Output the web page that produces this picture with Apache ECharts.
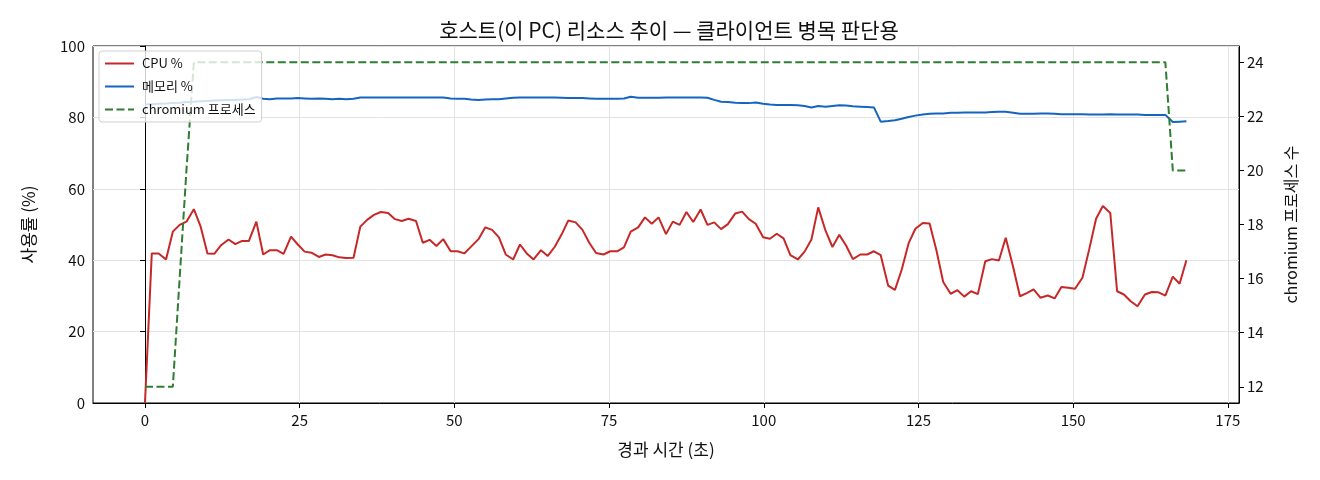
<!DOCTYPE html>
<html>
<head>
<meta charset="utf-8">
<script src="https://cdn.jsdelivr.net/npm/echarts@6/dist/echarts.min.js"></script>
<style>
  html, body { margin: 0; padding: 0; background: #fff; }
  #main { width: 1320px; height: 480px; }
</style>
</head>
<body>
<div id="main"></div>
<script>
    // 경과 시간 (초) — 샘플 시각
    const times = [
        0.0, 1.1, 2.2, 3.4, 4.5, 5.6, 6.7, 7.9, 9.0, 10.1, 11.2, 12.3, 13.5, 14.6, 15.7, 16.8, 18.0, 19.1, 20.2, 21.3,
        22.4, 23.6, 24.7, 25.8, 26.9, 28.1, 29.2, 30.3, 31.4, 32.5, 33.7, 34.8, 35.9, 37.0, 38.1, 39.3, 40.4, 41.5, 42.6, 43.8,
        44.9, 46.0, 47.1, 48.2, 49.4, 50.5, 51.6, 52.7, 53.9, 55.0, 56.1, 57.2, 58.3, 59.5, 60.6, 61.7, 62.8, 64.0, 65.1, 66.2,
        67.3, 68.4, 69.6, 70.7, 71.8, 72.9, 74.1, 75.2, 76.3, 77.4, 78.5, 79.7, 80.8, 81.9, 83.0, 84.2, 85.3, 86.4, 87.5, 88.6,
        89.8, 90.9, 92.0, 93.1, 94.2, 95.4, 96.5, 97.6, 98.7, 99.9, 101.0, 102.1, 103.2, 104.3, 105.5, 106.6, 107.7, 108.8, 110.0, 111.1,
        112.2, 113.3, 114.4, 115.6, 116.7, 117.8, 118.9, 120.1, 121.2, 122.3, 123.4, 124.5, 125.7, 126.8, 127.9, 129.0, 130.2, 131.3, 132.4, 133.5,
        134.6, 135.8, 136.9, 138.0, 139.1, 140.3, 141.4, 142.5, 143.6, 144.7, 145.9, 147.0, 148.1, 149.2, 150.3, 151.5, 152.6, 153.7, 154.8, 156.0,
        157.1, 158.2, 159.3, 160.4, 161.6, 162.7, 163.8, 164.9, 166.1, 167.2, 168.3
    ];

    // CPU %
    const cpu = [
        0, 41.9, 41.9, 40.2, 48.0, 49.9, 50.8, 54.3, 49.4, 41.9, 41.8, 44.2, 45.8, 44.5, 45.4, 45.4, 50.8, 41.6, 42.8, 42.8,
        41.8, 46.6, 44.4, 42.4, 42.1, 40.9, 41.6, 41.4, 40.8, 40.6, 40.7, 49.4, 51.3, 52.7, 53.5, 53.2, 51.5, 51.0, 51.6, 51.0,
        44.9, 45.7, 44.0, 45.9, 42.5, 42.5, 41.9, 43.8, 45.9, 49.2, 48.5, 46.4, 41.6, 40.2, 44.4, 41.9, 40.2, 42.8, 41.2, 43.7,
        47.1, 51.1, 50.6, 48.5, 44.9, 42.0, 41.6, 42.5, 42.5, 43.6, 48.0, 49.2, 52.0, 50.2, 52.0, 47.3, 50.8, 49.9, 53.5, 50.7,
        54.2, 49.9, 50.6, 48.7, 50.1, 53.1, 53.6, 51.5, 50.2, 46.4, 46.0, 47.4, 46.1, 41.4, 40.2, 42.4, 45.8, 54.8, 48.2, 43.7,
        47.1, 44.1, 40.3, 41.6, 41.6, 42.5, 41.4, 32.9, 31.7, 37.4, 44.7, 48.8, 50.4, 50.3, 42.8, 33.9, 30.6, 31.6, 29.8, 31.3,
        30.5, 39.7, 40.3, 39.9, 46.3, 38.1, 29.9, 30.8, 31.8, 29.5, 30.1, 29.3, 32.5, 32.3, 32.0, 35.1, 43.1, 51.6, 55.2, 53.2,
        31.3, 30.4, 28.5, 27.1, 30.4, 31.1, 31.0, 30.1, 35.4, 33.4, 40.0
    ];

    // 메모리 %
    const mem = [
        83.6, 83.7, 83.8, 83.9, 84.0, 84.1, 84.3, 84.4, 84.5, 84.6, 84.7, 84.8, 84.9, 84.9, 85.0, 85.1, 85.7, 85.2, 85.1, 85.3,
        85.3, 85.3, 85.4, 85.3, 85.2, 85.3, 85.2, 85.1, 85.2, 85.1, 85.2, 85.6, 85.6, 85.6, 85.6, 85.6, 85.6, 85.6, 85.6, 85.6,
        85.6, 85.6, 85.6, 85.6, 85.3, 85.2, 85.2, 85.0, 84.9, 85.0, 85.1, 85.1, 85.3, 85.5, 85.6, 85.6, 85.6, 85.6, 85.6, 85.6,
        85.5, 85.4, 85.4, 85.4, 85.3, 85.2, 85.2, 85.2, 85.2, 85.3, 85.8, 85.5, 85.5, 85.5, 85.5, 85.6, 85.6, 85.6, 85.6, 85.6,
        85.6, 85.5, 84.9, 84.4, 84.3, 84.1, 84.0, 84.0, 84.2, 83.8, 83.6, 83.5, 83.5, 83.5, 83.4, 83.2, 82.8, 83.2, 83.0, 83.2,
        83.4, 83.3, 83.1, 83.0, 82.9, 82.8, 78.8, 79.0, 79.2, 79.6, 80.1, 80.5, 80.8, 81.0, 81.1, 81.1, 81.3, 81.3, 81.4, 81.4,
        81.4, 81.4, 81.5, 81.6, 81.6, 81.3, 81.0, 81.0, 81.0, 81.1, 81.1, 81.0, 80.9, 80.9, 80.9, 80.9, 80.8, 80.8, 80.8, 80.9,
        80.8, 80.8, 80.8, 80.8, 80.7, 80.7, 80.7, 80.7, 78.7, 78.8, 78.9
    ];

    // chromium 프로세스 수
    const chromium = [
        12, 12, 12, 12, 12, 16, 20, 24, 24, 24, 24, 24, 24, 24, 24, 24, 24, 24, 24, 24,
        24, 24, 24, 24, 24, 24, 24, 24, 24, 24, 24, 24, 24, 24, 24, 24, 24, 24, 24, 24,
        24, 24, 24, 24, 24, 24, 24, 24, 24, 24, 24, 24, 24, 24, 24, 24, 24, 24, 24, 24,
        24, 24, 24, 24, 24, 24, 24, 24, 24, 24, 24, 24, 24, 24, 24, 24, 24, 24, 24, 24,
        24, 24, 24, 24, 24, 24, 24, 24, 24, 24, 24, 24, 24, 24, 24, 24, 24, 24, 24, 24,
        24, 24, 24, 24, 24, 24, 24, 24, 24, 24, 24, 24, 24, 24, 24, 24, 24, 24, 24, 24,
        24, 24, 24, 24, 24, 24, 24, 24, 24, 24, 24, 24, 24, 24, 24, 24, 24, 24, 24, 24,
        24, 24, 24, 24, 24, 24, 24, 24, 20, 20, 20
    ];

    const xTicks = [0, 25, 50, 75, 100, 125, 150, 175];
    const procTicks = [12, 14, 16, 18, 20, 22, 24];

    const pair = (vals) => times.map((t, i) => [t, vals[i]]);

    const FONT = '"Noto Sans CJK KR", "Noto Sans", sans-serif';

    var myChart = echarts.init(document.getElementById('main'));

    option = {
        textStyle: { fontFamily: FONT },
        title: {
            text: '호스트(이 PC) 리소스 추이 — 클라이언트 병목 판단용',
            left: 664,
            textAlign: 'center',
            top: 15,
            textStyle: { fontFamily: FONT, fontSize: 21, fontWeight: 'normal', color: '#111' }
        },
        legend: {
            orient: 'vertical',
            left: 99,
            top: 51,
            padding: [6, 6, 6, 5],
            itemWidth: 29,
            itemHeight: 14,
            itemGap: 10,
            backgroundColor: 'rgba(255,255,255,0.8)',
            borderColor: '#d0d0d0',
            borderWidth: 1,
            borderRadius: 3,
            itemStyle: { opacity: 0 },
            textStyle: { fontFamily: FONT, fontSize: 13, color: '#111', padding: [0, 0, 0, 3] },
            data: ['CPU %', '메모리 %', 'chromium 프로세스']
        },
        grid: {
            left: 93,
            right: 81,
            top: 46,
            bottom: 77,
            show: true,
            borderColor: '#000',
            borderWidth: 1,
            backgroundColor: 'transparent'
        },
        xAxis: {
            type: 'value',
            min: -8.4,
            max: 176.8,
            name: '경과 시간 (초)',
            nameLocation: 'middle',
            nameGap: 38,
            nameTextStyle: { fontFamily: FONT, fontSize: 17, color: '#111' },
            axisLine: { show: true, lineStyle: { color: '#000' } },
            axisTick: { show: true, length: 5, customValues: xTicks, lineStyle: { color: '#000' } },
            axisLabel: { customValues: xTicks, fontSize: 15, color: '#111', margin: 10 },
            splitLine: { show: true, lineStyle: { color: '#e3e3e3', width: 1 } }
        },
        yAxis: [
            {
                type: 'value',
                min: 0,
                max: 100,
                interval: 20,
                name: '사용률 (%)',
                nameLocation: 'middle',
                nameRotate: 90,
                nameGap: 56,
                nameTextStyle: { fontFamily: FONT, fontSize: 17, color: '#111' },
                axisLine: { show: true, lineStyle: { color: '#000' } },
                axisTick: { show: true, length: 5, lineStyle: { color: '#000' } },
                axisLabel: { fontSize: 15, color: '#111', margin: 8 },
                splitLine: { show: true, lineStyle: { color: '#e3e3e3', width: 1 } }
            },
            {
                type: 'value',
                position: 'right',
                min: 11.4,
                max: 24.6,
                name: 'chromium 프로세스 수',
                nameLocation: 'middle',
                nameRotate: 90,
                nameGap: 44,
                nameTextStyle: { fontFamily: FONT, fontSize: 16, color: '#111' },
                axisLine: { show: true, lineStyle: { color: '#000' } },
                axisTick: { show: true, length: 5, customValues: procTicks, lineStyle: { color: '#000' } },
                axisLabel: { customValues: procTicks, fontSize: 15, color: '#111', margin: 8 },
                splitLine: { show: false }
            }
        ],
        series: [
            {
                name: 'CPU %',
                type: 'line',
                yAxisIndex: 0,
                symbol: 'none',
                color: '#c62828',
                lineStyle: { width: 2, color: '#c62828' },
                data: pair(cpu),
                z: 3
            },
            {
                name: '메모리 %',
                type: 'line',
                yAxisIndex: 0,
                symbol: 'none',
                color: '#1565c0',
                lineStyle: { width: 2, color: '#1565c0' },
                data: pair(mem),
                z: 3
            },
            {
                name: 'chromium 프로세스',
                type: 'line',
                yAxisIndex: 1,
                symbol: 'none',
                color: '#2e7d32',
                lineStyle: { width: 2, color: '#2e7d32', type: [8, 3.5] },
                data: pair(chromium),
                z: 3
            }
        ]
    };

    myChart.setOption(option);
</script>
</body>
</html>
